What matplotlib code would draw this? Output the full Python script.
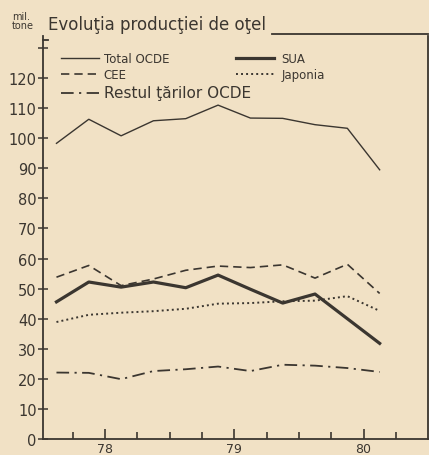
import matplotlib
matplotlib.use("Agg")
import matplotlib.pyplot as plt

# quarterly data, mil. tone
quarters = [77.625, 77.875, 78.125, 78.375, 78.625, 78.875,
            79.125, 79.375, 79.625, 79.875, 80.125]
total_ocde = [98.3, 106.3, 100.8, 105.8, 106.5, 111.0, 106.7, 106.6, 104.5, 103.3, 89.5]
sua = [45.6, 52.2, 50.5, 52.2, 50.3, 54.5, 49.8, 45.2, 48.2, 40.0, 31.8]
cee = [53.8, 57.7, 51.0, 53.2, 56.1, 57.5, 57.0, 57.9, 53.5, 58.1, 48.4]
japonia = [38.9, 41.3, 42.0, 42.5, 43.3, 45.0, 45.2, 45.8, 46.0, 47.5, 42.6]
restul = [22.1, 22.0, 19.9, 22.6, 23.2, 24.1, 22.6, 24.7, 24.4, 23.6, 22.3]

year_ticks = [78, 79, 80]
year_labels = ["78", "79", "80"]
y_ticks = list(range(0, 131, 10))
y_labels = [str(v) for v in range(0, 121, 10)] + [""]

paper = "#f1e1c5"
ink = "#3b3630"

fig = plt.figure(figsize=(4.29, 4.56), dpi=100, facecolor=paper)
ax = fig.add_axes([0.100, 0.035, 0.898, 0.884], facecolor=paper)

l_total, = ax.plot(quarters, total_ocde, color=ink, lw=1.0, label="Total OCDE")
l_cee, = ax.plot(quarters, cee, color=ink, lw=1.2, ls=(0, (5, 3)), label="CEE")
l_rest, = ax.plot(quarters, restul, color=ink, lw=1.3, ls=(0, (7, 3, 1.2, 3)),
                  label="Restul ţărilor OCDE")
l_sua, = ax.plot(quarters, sua, color=ink, lw=2.3, label="SUA")
l_jap, = ax.plot(quarters, japonia, color=ink, lw=1.4, ls=(0, (1, 1.6)), label="Japonia")

ax.set_xlim(77.52, 80.5)
ax.set_ylim(0, 134)

ax.set_xticks(year_ticks)
ax.set_xticklabels(year_labels, fontsize=9, color=ink)
ax.set_xticks([77.75, 78.25, 78.5, 78.75, 79.25, 79.5, 79.75, 80.25], minor=True)
ax.tick_params(axis="x", which="major", direction="in", length=7, width=1.2, color=ink, pad=2)
ax.tick_params(axis="x", which="minor", direction="in", length=5, width=1.2, color=ink)

ax.set_yticks(y_ticks)
ax.set_yticklabels(y_labels, fontsize=10.5, color=ink)
ax.tick_params(axis="y", direction="inout", length=7, width=1.1, color=ink, pad=1)

for side in ["left", "right", "bottom"]:
    ax.spines[side].set_color(ink)
    ax.spines[side].set_linewidth(1.3)
ax.spines["top"].set_visible(False)
# top frame line starts after the title
ax.plot([0.595, 1.0], [1.005, 1.005], transform=ax.transAxes, color=ink, lw=1.3, clip_on=False)
ax.plot([0.0, 0.012], [0.99, 0.99], transform=ax.transAxes, color=ink, lw=1.3, clip_on=False)

fig.text(0.112, 0.925, "Evoluţia producţiei de oţel", fontsize=12, color=ink,
         ha="left", va="bottom")
fig.text(0.028, 0.932, "mil.\ntone", fontsize=7, color=ink,
         ha="left", va="bottom", linespacing=0.85)

# legend: left column (Total, CEE, Restul), right column (SUA, Japonia)
leg1 = ax.legend([l_total, l_cee, l_rest], ["Total OCDE", "CEE", "Restul ţărilor OCDE"],
                 loc="upper left", bbox_to_anchor=(0.035, 0.972), frameon=False,
                 fontsize=8.5, handlelength=3.2, handletextpad=0.4,
                 labelspacing=0.3, borderaxespad=0)
for t in leg1.get_texts():
    t.set_color(ink)
leg1.get_texts()[2].set_fontsize(11)
ax.add_artist(leg1)

leg2 = ax.legend([l_sua, l_jap], ["SUA", "Japonia"], loc="upper left",
                 bbox_to_anchor=(0.49, 0.972), frameon=False, fontsize=8.5,
                 handlelength=3.2, handletextpad=0.6, labelspacing=0.3, borderaxespad=0)
for t in leg2.get_texts():
    t.set_color(ink)

fig.savefig("out.png", dpi=100, facecolor=paper)
